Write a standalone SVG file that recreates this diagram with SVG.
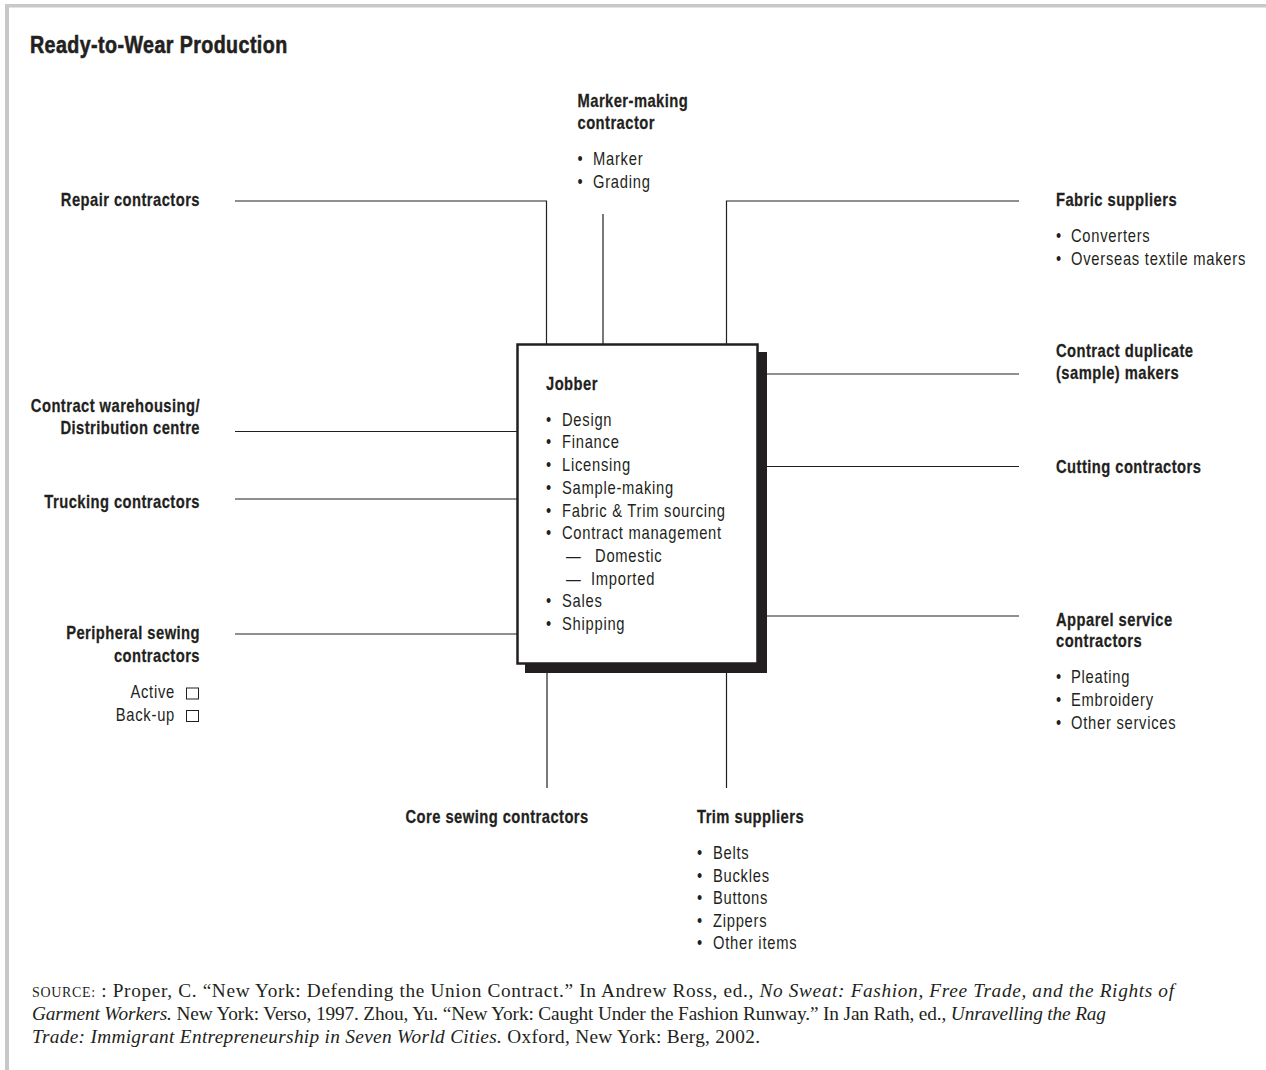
<svg xmlns="http://www.w3.org/2000/svg" width="1266" height="1070" viewBox="0 0 1266 1070">
<style>
.b{font-family:"Liberation Sans",Arial,sans-serif;font-weight:bold;font-size:18px;letter-spacing:0.55px;fill:#231f20;stroke:#231f20;stroke-width:0.25px}
.r{font-family:"Liberation Sans",Arial,sans-serif;font-size:18px;letter-spacing:0.9px;fill:#231f20}
.e{text-anchor:end}
.s{font-family:"Liberation Serif","Times New Roman",serif;font-size:19.3px;fill:#231f20}
.i{font-style:italic}
.sc{font-size:14px}
.c{fill:none;stroke:#231f20;stroke-width:1.2}
</style>
<rect x="5" y="4" width="1261" height="3.5" fill="#c8c8c8"/>
<rect x="5" y="4" width="4" height="1066" fill="#c8c8c8"/>
<text class="b" transform="matrix(.82 0 0 1 30 53)" style="font-size:24px;letter-spacing:0.5px;stroke-width:0.6px">Ready-to-Wear Production</text>

<g id="connectors">
<path class="c" d="M235 201H546.5V344"/>
<path class="c" d="M603 214V344"/>
<path class="c" d="M1019 201H726.5V344"/>
<path class="c" d="M767 374H1019"/>
<path class="c" d="M767 466.5H1019"/>
<path class="c" d="M767 616H1019"/>
<path class="c" d="M235 431.5H517"/>
<path class="c" d="M235 499H517"/>
<path class="c" d="M235 634H517"/>
<path class="c" d="M547 673V788"/>
<path class="c" d="M726.5 673V788"/>
</g>

<g id="jobber">
<rect x="525" y="352" width="242" height="321" fill="#231f20"/>
<rect x="517.5" y="344.5" width="240" height="319" fill="#fff" stroke="#231f20" stroke-width="2.5"/>
<text class="b" transform="matrix(.82 0 0 1 546 390)">Jobber</text>
<text class="r" transform="matrix(.82 0 0 1 546 425.7)"><tspan x="0">•</tspan><tspan x="19.5">Design</tspan></text>
<text class="r" transform="matrix(.82 0 0 1 546 448.4)"><tspan x="0">•</tspan><tspan x="19.5">Finance</tspan></text>
<text class="r" transform="matrix(.82 0 0 1 546 471.1)"><tspan x="0">•</tspan><tspan x="19.5">Licensing</tspan></text>
<text class="r" transform="matrix(.82 0 0 1 546 493.8)"><tspan x="0">•</tspan><tspan x="19.5">Sample-making</tspan></text>
<text class="r" transform="matrix(.82 0 0 1 546 516.5)"><tspan x="0">•</tspan><tspan x="19.5">Fabric &amp; Trim sourcing</tspan></text>
<text class="r" transform="matrix(.82 0 0 1 546 539.2)"><tspan x="0">•</tspan><tspan x="19.5">Contract management</tspan></text>
<text class="r" transform="matrix(.82 0 0 1 566 561.9)"><tspan x="0">—</tspan><tspan x="35.4">Domestic</tspan></text>
<text class="r" transform="matrix(.82 0 0 1 566 584.6)"><tspan x="0">—</tspan><tspan x="30.5">Imported</tspan></text>
<text class="r" transform="matrix(.82 0 0 1 546 607.3)"><tspan x="0">•</tspan><tspan x="19.5">Sales</tspan></text>
<text class="r" transform="matrix(.82 0 0 1 546 630)"><tspan x="0">•</tspan><tspan x="19.5">Shipping</tspan></text>
</g>

<g id="marker-making">
<text class="b" transform="matrix(.82 0 0 1 577.5 107.3)">Marker-making</text>
<text class="b" transform="matrix(.82 0 0 1 577.5 129)">contractor</text>
<text class="r" transform="matrix(.82 0 0 1 577.5 165)"><tspan x="0">•</tspan><tspan x="18.9">Marker</tspan></text>
<text class="r" transform="matrix(.82 0 0 1 577.5 187.5)"><tspan x="0">•</tspan><tspan x="18.9">Grading</tspan></text>
</g>

<g id="repair">
<text class="b e" transform="matrix(.82 0 0 1 200 206)">Repair contractors</text>
</g>

<g id="warehousing">
<text class="b e" transform="matrix(.82 0 0 1 200 412.3)">Contract warehousing/</text>
<text class="b e" transform="matrix(.82 0 0 1 200 433.5)">Distribution centre</text>
</g>

<g id="trucking">
<text class="b e" transform="matrix(.82 0 0 1 200 508.3)">Trucking contractors</text>
</g>

<g id="peripheral-sewing">
<text class="b e" transform="matrix(.82 0 0 1 200 639)">Peripheral sewing</text>
<text class="b e" transform="matrix(.82 0 0 1 200 661.5)">contractors</text>
<text class="r e" transform="matrix(.82 0 0 1 175 698.3)">Active</text>
<rect x="186.5" y="688" width="12" height="11" fill="none" stroke="#231f20" stroke-width="1"/>
<text class="r e" transform="matrix(.82 0 0 1 175 720.5)">Back-up</text>
<rect x="186.5" y="710.5" width="12" height="11" fill="none" stroke="#231f20" stroke-width="1"/>
</g>

<g id="core-sewing">
<text class="b" transform="matrix(.82 0 0 1 405.5 822.7)">Core sewing contractors</text>
</g>

<g id="trim-suppliers">
<text class="b" transform="matrix(.82 0 0 1 697 822.7)">Trim suppliers</text>
<text class="r" transform="matrix(.82 0 0 1 697 859)"><tspan x="0">•</tspan><tspan x="19.5">Belts</tspan></text>
<text class="r" transform="matrix(.82 0 0 1 697 881.6)"><tspan x="0">•</tspan><tspan x="19.5">Buckles</tspan></text>
<text class="r" transform="matrix(.82 0 0 1 697 904.2)"><tspan x="0">•</tspan><tspan x="19.5">Buttons</tspan></text>
<text class="r" transform="matrix(.82 0 0 1 697 926.8)"><tspan x="0">•</tspan><tspan x="19.5">Zippers</tspan></text>
<text class="r" transform="matrix(.82 0 0 1 697 949.4)"><tspan x="0">•</tspan><tspan x="19.5">Other items</tspan></text>
</g>

<g id="fabric-suppliers">
<text class="b" transform="matrix(.82 0 0 1 1056 206)">Fabric suppliers</text>
<text class="r" transform="matrix(.82 0 0 1 1056 242)"><tspan x="0">•</tspan><tspan x="18.3">Converters</tspan></text>
<text class="r" transform="matrix(.82 0 0 1 1056 264.6)"><tspan x="0">•</tspan><tspan x="18.3">Overseas textile makers</tspan></text>
</g>

<g id="duplicate-makers">
<text class="b" transform="matrix(.82 0 0 1 1056 356.7)">Contract duplicate</text>
<text class="b" transform="matrix(.82 0 0 1 1056 379)">(sample) makers</text>
</g>

<g id="cutting">
<text class="b" transform="matrix(.82 0 0 1 1056 473)">Cutting contractors</text>
</g>

<g id="apparel-service">
<text class="b" transform="matrix(.82 0 0 1 1056 625.5)">Apparel service</text>
<text class="b" transform="matrix(.82 0 0 1 1056 647)">contractors</text>
<text class="r" transform="matrix(.82 0 0 1 1056 683.3)"><tspan x="0">•</tspan><tspan x="18.3">Pleating</tspan></text>
<text class="r" transform="matrix(.82 0 0 1 1056 705.9)"><tspan x="0">•</tspan><tspan x="18.3">Embroidery</tspan></text>
<text class="r" transform="matrix(.82 0 0 1 1056 728.5)"><tspan x="0">•</tspan><tspan x="18.3">Other services</tspan></text>
</g>

<g id="source">
<text class="s" x="32" y="997" textLength="1142" lengthAdjust="spacing"><tspan class="sc">SOURCE:</tspan> : Proper, C. “New York: Defending the Union Contract.” In Andrew Ross, ed., <tspan class="i">No Sweat: Fashion, Free Trade, and the Rights of</tspan></text>
<text class="s" x="32" y="1020" textLength="1074" lengthAdjust="spacing"><tspan class="i">Garment Workers.</tspan> New York: Verso, 1997. Zhou, Yu. “New York: Caught Under the Fashion Runway.” In Jan Rath, ed., <tspan class="i">Unravelling the Rag</tspan></text>
<text class="s" x="32" y="1043" textLength="728" lengthAdjust="spacing"><tspan class="i">Trade: Immigrant Entrepreneurship in Seven World Cities.</tspan> Oxford, New York: Berg, 2002.</text>
</g>
</svg>
